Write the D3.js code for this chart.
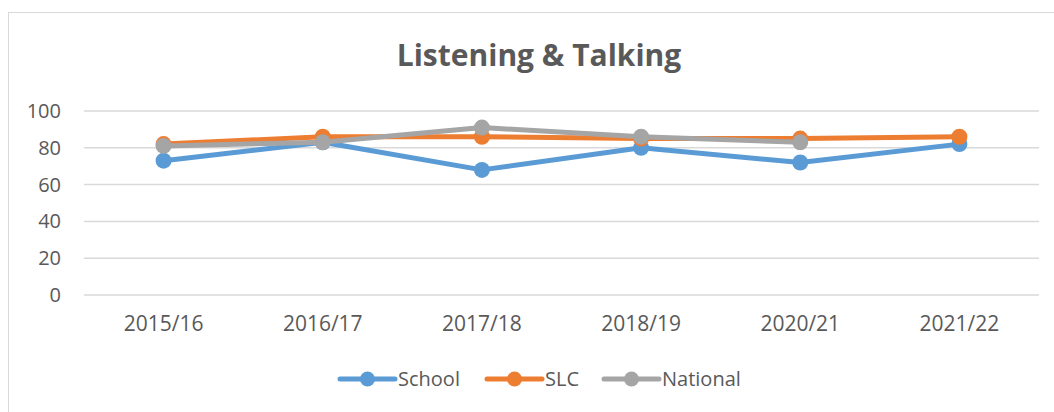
<!DOCTYPE html>
<html>
<head>
<script src="https://d3js.org/d3.v7.min.js"></script>
<style>
  body { margin: 0; background: #fff; }
  text { font-family: "Open Sans", "Liberation Sans", sans-serif; fill: #595959; }
</style>
</head>
<body>
<script>
var years = ["2015/16", "2016/17", "2017/18", "2018/19", "2020/21", "2021/22"];
var school = [73, 83, 68, 80, 72, 82];
var slc = [82, 86, 86, 85, 85, 86];
var national = [81, 83, 91, 86, 83, null];
var yTicks = [0, 20, 40, 60, 80, 100];

var series = [
  { name: "School", values: school, color: "#5b9bd5" },
  { name: "SLC", values: slc, color: "#ed7d31" },
  { name: "National", values: national, color: "#a5a5a5" }
];

var width = 1054, height = 412;
var plotLeft = 84, plotRight = 1039, plotTop = 111, plotBottom = 295;

var svg = d3.select("body").append("svg")
  .attr("width", width)
  .attr("height", height);

// chart border
svg.append("rect")
  .attr("x", 8.5).attr("y", 12.5)
  .attr("width", 1060).attr("height", 420)
  .attr("fill", "none")
  .attr("stroke", "#d9d9d9");

var x = d3.scaleBand().domain(years).range([plotLeft, plotRight]);
var y = d3.scaleLinear().domain([0, 100]).range([plotBottom, plotTop]);

// gridlines
svg.append("g")
  .selectAll("line")
  .data(yTicks)
  .enter()
  .append("line")
    .attr("x1", plotLeft).attr("x2", plotRight)
    .attr("y1", function(d) { return y(d); })
    .attr("y2", function(d) { return y(d); })
    .attr("stroke", "#d9d9d9")
    .attr("stroke-width", 1.5);

// y axis labels
var yAxis = svg.append("g")
  .attr("transform", "translate(" + (plotLeft - 23) + ",0)")
  .call(d3.axisLeft(y).tickValues(yTicks).tickSize(0).tickPadding(0));
yAxis.select(".domain").remove();
yAxis.selectAll("text").attr("font-size", 20).attr("fill", "#595959")
  .style("font-family", "'Open Sans', 'Liberation Sans', sans-serif");

// x axis labels
var xAxis = svg.append("g")
  .attr("transform", "translate(0," + (plotBottom + 21) + ")")
  .call(d3.axisBottom(x).tickSize(0).tickPadding(0));
xAxis.select(".domain").remove();
xAxis.selectAll("text").attr("font-size", 21).attr("fill", "#595959")
  .style("font-family", "'Open Sans', 'Liberation Sans', sans-serif");

// title
svg.append("text")
  .attr("x", 539).attr("y", 66)
  .attr("text-anchor", "middle")
  .attr("font-size", 30)
  .attr("font-weight", "bold")
  .text("Listening & Talking");

var line = d3.line()
  .defined(function(d) { return d != null; })
  .x(function(d, i) { return x(years[i]) + x.bandwidth() / 2; })
  .y(function(d) { return y(d); });

series.forEach(function(s) {
  svg.append("path")
    .attr("d", line(s.values))
    .attr("fill", "none")
    .attr("stroke", s.color)
    .attr("stroke-width", 5)
    .attr("stroke-linejoin", "round");
  svg.append("g")
    .selectAll("circle")
    .data(s.values.map(function(v, i) { return { v: v, i: i }; }).filter(function(d) { return d.v != null; }))
    .enter()
    .append("circle")
      .attr("cx", function(d) { return x(years[d.i]) + x.bandwidth() / 2; })
      .attr("cy", function(d) { return y(d.v); })
      .attr("r", 8)
      .attr("fill", s.color);
});

// legend
var legendX = [340, 487, 604];
var lg = svg.append("g").selectAll("g")
  .data(series)
  .enter()
  .append("g")
    .attr("transform", function(d, i) { return "translate(" + legendX[i] + ",379)"; });
lg.append("line")
  .attr("x1", 0).attr("x2", 55)
  .attr("stroke", function(d) { return d.color; })
  .attr("stroke-width", 5)
  .attr("stroke-linecap", "round");
lg.append("circle")
  .attr("cx", 27.5).attr("r", 7.5)
  .attr("fill", function(d) { return d.color; });
lg.append("text")
  .attr("x", 58).attr("y", 7)
  .attr("font-size", 20)
  .text(function(d) { return d.name; });
</script>
</body>
</html>
